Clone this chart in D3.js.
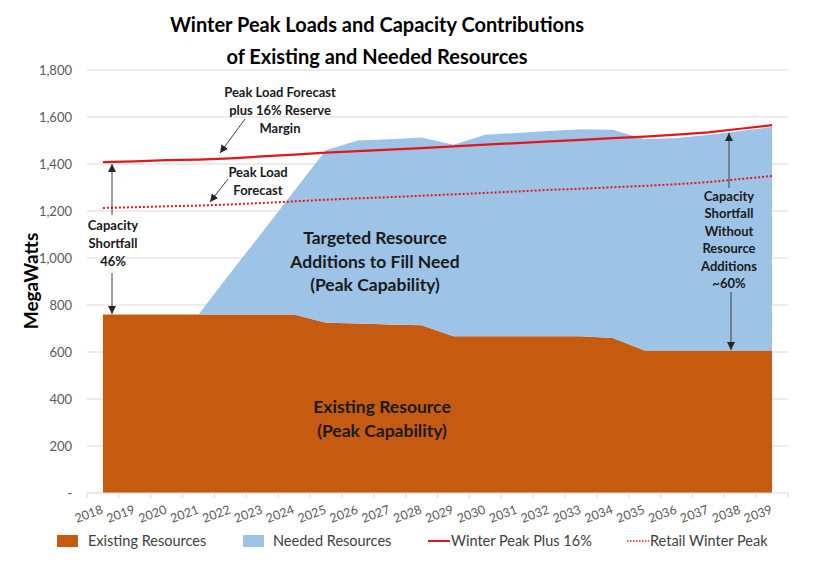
<!DOCTYPE html>
<html><head><meta charset="utf-8">
<script src="https://cdn.jsdelivr.net/npm/d3@7"></script>
<style>
body{margin:0;background:#fff;}
svg{display:block;font-family:Lato, "Open Sans", sans-serif;}
</style></head>
<body><svg id="chart" width="832" height="573"></svg>
<script>
const years = ["2018","2019","2020","2021","2022","2023","2024","2025","2026","2027","2028","2029","2030","2031","2032","2033","2034","2035","2036","2037","2038","2039"];
const existingResources = [760,760,760,760,760,760,760,724,721,717,714,667,667,667,667,667,660,606,606,606,606,606];
const neededResources   = [0,0,0,0,176,350,525,736,779,788,799,815,858,865,873,881,886,899,905,917,934,952];
const winterPeakPlus16  = [1408,1411,1416,1419,1424,1432,1440,1448,1455,1461,1468,1475,1482,1489,1496,1503,1510,1517,1525,1535,1550,1565];
const retailWinterPeak  = [1213,1216,1220,1223,1228,1234,1241,1248,1254,1259,1265,1271,1277,1283,1290,1295,1301,1307,1314,1323,1336,1349];
const yTicks = [0,200,400,600,800,1000,1200,1400,1600,1800];
const titleLines = ["Winter Peak Loads and Capacity Contributions","of Existing and Needed Resources"];

const svg = d3.select("#chart");
const x = d3.scaleBand().domain(years).range([87, 788]).padding(0);
const y = d3.scaleLinear().domain([0,1800]).range([493, 70]);
const cx = d => x(d) + x.bandwidth()/2;

// grid
svg.append("g").selectAll("line").data(yTicks.filter(t=>t>0)).join("line")
  .attr("x1",87).attr("x2",788).attr("y1",d=>y(d)).attr("y2",d=>y(d))
  .attr("stroke","#d9d9d9").attr("stroke-width",1);

// stacked areas
const rows = years.map((yr,i)=>({year:yr, existing:existingResources[i], needed:neededResources[i]}));
const stack = d3.stack().keys(["existing","needed"])(rows);
const colors = {existing:"#C55A11", needed:"#9DC3E6"};
const area = d3.area().x(d=>cx(d.data.year)).y0(d=>y(d[0])).y1(d=>y(d[1]));
svg.append("g").selectAll("path").data(stack).join("path")
  .attr("d",area).attr("fill",d=>colors[d.key]);

// lines
const line = d3.line().x((d,i)=>cx(years[i])).y(d=>y(d));
svg.append("path").attr("d",line(retailWinterPeak)).attr("fill","none")
  .attr("stroke","#E4161C").attr("stroke-width",2).attr("stroke-dasharray","2,2");
svg.append("path").attr("d",line(winterPeakPlus16)).attr("fill","none")
  .attr("stroke","#E4161C").attr("stroke-width",2.25);

// y axis labels
const yAxis = d3.axisLeft(y).tickValues(yTicks).tickSize(0).tickPadding(0)
  .tickFormat(d=> d===0 ? "-" : d3.format(",")(d));
const ya = svg.append("g").attr("transform","translate(72,0)").call(yAxis);
ya.select(".domain").remove();
ya.selectAll("text").attr("fill","#595959").style("font-size","13px").style("font-family","Lato");

// x axis
const xa = svg.append("g").attr("transform","translate(0,493)");
xa.append("line").attr("x1",87).attr("x2",788).attr("stroke","#d9d9d9");
xa.selectAll("line.tk").data(years.concat(["end"])).join("line").attr("class","tk")
  .attr("x1",(d,i)=>87+i*x.bandwidth()).attr("x2",(d,i)=>87+i*x.bandwidth())
  .attr("y1",0).attr("y2",5).attr("stroke","#d9d9d9");
xa.selectAll("text").data(years).join("text")
  .attr("transform",d=>`translate(${cx(d)+1},${20}) rotate(-20)`)
  .attr("text-anchor","end").attr("fill","#595959")
  .style("font-size","12.5px").text(d=>d);

// title
svg.append("g").selectAll("text").data(titleLines).join("text")
  .attr("x",377).attr("y",(d,i)=>32+i*32).attr("text-anchor","middle")
  .attr("font-weight","bold").style("font-size","20px").attr("fill","#000").text(d=>d);

// y axis title
svg.append("text").attr("transform","translate(38,281) rotate(-90)").attr("text-anchor","middle")
  .attr("font-weight","bold").style("font-size","19px").text("MegaWatts");

// arrows
const defs = svg.append("defs");
defs.append("marker").attr("id","ah").attr("viewBox","0 0 10 10").attr("refX",10).attr("refY",5)
  .attr("markerWidth",8).attr("markerHeight",8).attr("markerUnits","userSpaceOnUse").attr("orient","auto")
  .append("path").attr("d","M0,0 L10,5 L0,10 z").attr("fill","#262626");
function arrow(x1,y1,x2,y2){
  svg.append("line").attr("x1",x1).attr("y1",y1).attr("x2",x2).attr("y2",y2)
    .attr("stroke","#404040").attr("stroke-width",1).attr("marker-end","url(#ah)");
}
arrow(245,119,220,153);
arrow(228,179,210,202);
arrow(112,215,112,164);
arrow(112,273,112,314);
arrow(729,188,729,133);
arrow(731,292,731,350);

function label(lines, xc, y0, dy, size, weight="bold"){
  svg.append("g").selectAll("text").data(lines).join("text")
    .attr("x",xc).attr("y",(d,i)=>y0+i*dy).attr("text-anchor","middle")
    .attr("font-weight",weight).style("font-size",size+"px").attr("fill","#1a1a1a").text(d=>d);
}
label(["Peak Load Forecast","plus 16% Reserve","Margin"],280,97,18,13);
label(["Peak Load","Forecast"],258,177,18,13);
label(["Capacity","Shortfall","46%"],113,230,18,13);
label(["Capacity","Shortfall","Without","Resource","Additions","~60%"],729,201,17.4,13);
label(["Targeted Resource","Additions to Fill Need","(Peak Capability)"],375,244,23.5,17.5);
label(["Existing Resource","(Peak Capability)"],382,413,23.5,17.5);

// legend
const lg = svg.append("g");
lg.append("rect").attr("x",57).attr("y",535).attr("width",21).attr("height",12).attr("fill","#C55A11");
lg.append("text").attr("x",88).attr("y",546).style("font-size","14.5px").attr("fill","#404040").text("Existing Resources");
lg.append("rect").attr("x",243).attr("y",535).attr("width",21).attr("height",12).attr("fill","#9DC3E6");
lg.append("text").attr("x",273).attr("y",546).style("font-size","14.5px").attr("fill","#404040").text("Needed Resources");
lg.append("line").attr("x1",428).attr("x2",450).attr("y1",541).attr("y2",541).attr("stroke","#E4161C").attr("stroke-width",2);
lg.append("text").attr("x",451).attr("y",546).style("font-size","14.5px").attr("fill","#404040").text("Winter Peak Plus 16%");
lg.append("line").attr("x1",627).attr("x2",649).attr("y1",541).attr("y2",541).attr("stroke","#E4161C").attr("stroke-width",1.5).attr("stroke-dasharray","1.5,1.5");
lg.append("text").attr("x",650).attr("y",546).style("font-size","14.5px").attr("fill","#404040").text("Retail Winter Peak");
</script></body></html>
